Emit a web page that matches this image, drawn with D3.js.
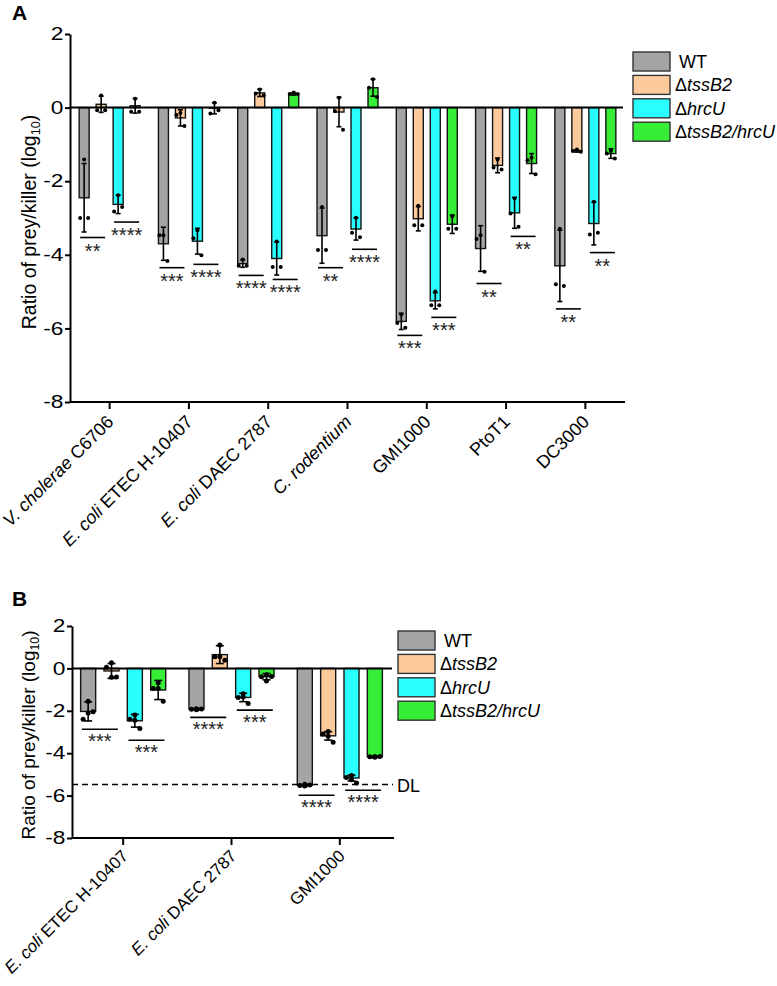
<!DOCTYPE html>
<html><head><meta charset="utf-8">
<script src="https://cdn.jsdelivr.net/npm/d3@7"></script>
<style>body{margin:0;background:#fff} svg{font-family:"Liberation Sans",Arial,sans-serif}</style>
</head><body><svg id="c" width="777" height="986"></svg>
<script>
// ---------- shared ----------
const series = ["WT", "ΔtssB2", "ΔhrcU", "ΔtssB2/hrcU"];
const seriesItalic = ["", "tssB2", "hrcU", "tssB2/hrcU"];
const colors = ["#a4a4a7", "#fdca9b", "#2affff", "#36ee36"];
const yTicks = [-8, -6, -4, -2, 0, 2];

// ---------- panel A data ----------
const aCats = ["V. cholerae C6706", "E. coli ETEC H-10407", "E. coli DAEC 2787", "C. rodentium", "GMI1000", "PtoT1", "DC3000"];
const aCatItalic = ["V. cholerae", "E. coli", "E. coli", "C. rodentium", "", "", ""];
const aWT     = [-2.45, -3.70, -4.24, -3.48, -5.81, -3.83, -4.30];
const aTssB2  = [0.09, -0.28, 0.40, -0.12, -3.02, -1.57, -1.18];
const aHrcU   = [-2.63, -3.63, -4.10, -3.30, -5.25, -2.86, -3.15];
const aDouble = [0.05, -0.02, 0.37, 0.54, -3.17, -1.52, -1.25];
const aWTsd     = [0.93, 0.45, 0.10, 0.75, 0.22, 0.62, 0.97];
const aTssB2sd  = [0.22, 0.22, 0.10, 0.40, 0.33, 0.20, 0.03];
const aHrcUsd   = [0.25, 0.35, 0.45, 0.30, 0.22, 0.42, 0.58];
const aDoublesd = [0.20, 0.15, 0.03, 0.23, 0.25, 0.27, 0.13];
const aWTpts     = [[-1.41,-3.0,-3.0],[-3.47,-3.47,-4.17],[-4.13,-4.30,-4.30],[-2.70,-3.87,-3.87],[-5.62,-5.85,-5.98],[-3.47,-3.57,-4.46],[-3.29,-4.80,-4.85]];
const aTssB2pts  = [[0.33,-0.07,-0.07],[-0.15,-0.20,-0.50],[0.49,0.38,0.33],[0.27,-0.10,-0.60],[-2.67,-3.20,-3.20],[-1.41,-1.63,-1.68],[-1.14,-1.18,-1.20]];
const aHrcUpts   = [[-2.38,-2.82,-2.70],[-3.33,-3.55,-4.01],[-3.64,-4.33,-4.33],[-2.99,-3.40,-3.52],[-5.00,-5.37,-5.37],[-2.47,-2.88,-3.24],[-2.56,-3.45,-3.40]];
const aDoublepts = [[0.24,-0.11,-0.11],[0.13,-0.16,-0.07],[0.41,0.37,0.37],[0.77,0.54,0.29],[-2.95,-3.29,-3.29],[-1.36,-1.43,-1.81],[-1.17,-1.25,-1.38]];
const aSig1Y   = [-3.53, -4.35, -4.56, -4.35, -6.19, -4.78, -5.47];
const aSig1Lab = ["**", "***", "****", "**", "***", "**", "**"];
const aSig2Y   = [-3.11, -4.26, -4.67, -3.85, -5.70, -3.50, -3.94];
const aSig2Lab = ["****", "****", "****", "****", "***", "**", "**"];

// ---------- panel B data ----------
const bCats = ["E. coli ETEC H-10407", "E. coli DAEC 2787", "GMI1000"];
const bCatItalic = ["E. coli", "E. coli", ""];
const bWT     = [-2.03, -1.92, -5.51];
const bTssB2  = [-0.12, 0.65, -3.18];
const bHrcU   = [-2.47, -1.37, -5.17];
const bDouble = [-1.02, -0.39, -4.17];
const bWTsd     = [0.45, 0.03, 0.03];
const bTssB2sd  = [0.35, 0.42, 0.20];
const bHrcUsd   = [0.30, 0.20, 0.14];
const bDoublesd = [0.45, 0.15, 0.03];
const bWTpts     = [[-1.55,-2.40,-2.10,-2.05],[-1.90,-1.93,-1.95,-1.92],[-5.47,-5.52,-5.55,-5.50]];
const bTssB2pts  = [[0.27,0.05,-0.42,-0.40],[1.10,0.55,0.55,0.38],[-2.98,-3.10,-3.20,-3.48]];
const bHrcUpts   = [[-2.20,-2.40,-2.45,-2.83],[-1.20,-1.37,-1.35,-1.65],[-5.05,-5.15,-5.25,-5.40]];
const bDoublepts = [[-0.68,-0.95,-0.95,-1.55],[-0.30,-0.39,-0.60,-0.38],[-4.15,-4.17,-4.19,-4.16]];
const bSig1Y   = [-2.87, -2.31, -5.98];
const bSig1Lab = ["***", "****", "****"];
const bSig2Y   = [-3.39, -1.97, -5.75];
const bSig2Lab = ["***", "***", "****"];
const bDL = -5.48;

const svg = d3.select("#c");

function addLabel(sel, italicPart, rest) {
  if (italicPart) sel.append("tspan").attr("font-style", "italic").text(italicPart);
  if (rest) sel.append("tspan").text(rest);
}

function panel(o) {
  const g = svg.append("g");
  const x = d3.scaleBand().domain(o.cats).range(o.xRange).paddingInner(0).paddingOuter(0);
  const xs = d3.scaleBand().domain(series).range([-o.half, o.half]).paddingInner(o.pi).paddingOuter(o.po);
  const y = d3.scaleLinear().domain([-8, 2]).range(o.yRange);
  const cx = c => x(c) + x.bandwidth() / 2;

  const rows = [];
  series.forEach((s, si) => o.cats.forEach((c, ci) => rows.push({
    s, si, c, v: o.means[si][ci], sd: o.sds[si][ci], pts: o.pts[si][ci]
  })));

  // bars
  g.selectAll("rect.bar").data(rows).join("rect").attr("class", "bar")
    .attr("x", d => cx(d.c) + xs(d.s))
    .attr("width", xs.bandwidth())
    .attr("y", d => y(Math.max(0, d.v)))
    .attr("height", d => Math.abs(y(d.v) - y(0)))
    .attr("fill", d => colors[d.si])
    .attr("stroke", "#141414").attr("stroke-width", 1.4);

  // zero line
  g.append("line").attr("x1", o.axisX).attr("x2", o.xRange[1] - 2)
    .attr("y1", y(0)).attr("y2", y(0)).attr("stroke", "#000").attr("stroke-width", 2);

  // error bars
  const bx = d => cx(d.c) + xs(d.s) + xs.bandwidth() / 2;
  g.selectAll("line.err").data(rows).join("line").attr("class", "err")
    .attr("x1", bx).attr("x2", bx)
    .attr("y1", d => y(d.v + d.sd)).attr("y2", d => y(d.v - d.sd))
    .attr("stroke", "#000").attr("stroke-width", 1.6);
  ["up", "dn"].forEach(k => {
    g.selectAll("line.cap" + k).data(rows).join("line").attr("class", "cap" + k)
      .attr("x1", d => bx(d) - o.cap).attr("x2", d => bx(d) + o.cap)
      .attr("y1", d => y(k === "up" ? d.v + d.sd : d.v - d.sd))
      .attr("y2", d => y(k === "up" ? d.v + d.sd : d.v - d.sd))
      .attr("stroke", "#000").attr("stroke-width", 1.6);
  });

  // points
  const ptRows = [];
  rows.forEach(d => d.pts.forEach((p, pi) => ptRows.push({ d, p, pi })));
  g.selectAll("circle.pt").data(ptRows).join("circle").attr("class", "pt")
    .attr("cx", r => bx(r.d) + o.jitter[r.pi % o.jitter.length])
    .attr("cy", r => y(r.p)).attr("r", o.ptR).attr("fill", "#000");

  // significance
  const sigRows = [];
  o.cats.forEach((c, ci) => {
    sigRows.push({ xc: cx(c) - o.sigOff, y: o.sig1Y[ci], lab: o.sig1Lab[ci] });
    sigRows.push({ xc: cx(c) + o.sigOff, y: o.sig2Y[ci], lab: o.sig2Lab[ci] });
  });
  g.selectAll("line.sig").data(sigRows).join("line").attr("class", "sig")
    .attr("x1", d => d.xc - o.sigW / 2).attr("x2", d => d.xc + o.sigW / 2)
    .attr("y1", d => y(d.y)).attr("y2", d => y(d.y))
    .attr("stroke", "#000").attr("stroke-width", 1.6);
  g.selectAll("text.sig").data(sigRows).join("text").attr("class", "sig")
    .attr("x", d => d.xc).attr("y", d => y(d.y) + o.starDy)
    .attr("text-anchor", "middle").attr("font-size", 20).attr("fill", "#222")
    .text(d => d.lab);

  // y axis
  const ya = g.append("g").attr("transform", `translate(${o.axisX},0)`)
    .call(d3.axisLeft(y).tickValues(yTicks).tickSize(5).tickSizeOuter(0).tickFormat(d3.format("d")));
  ya.selectAll("path,line").attr("stroke", "#000").attr("stroke-width", 2);
  ya.selectAll("text").attr("font-size", 17.5).attr("fill", "#000")
    .attr("font-family", '"Liberation Sans",Arial,sans-serif')
    .attr("transform", "scale(1.3,1)").attr("x", -6.5 / 1.3).text(d => d < 0 ? "-" + Math.abs(d) : d);

  // x axis
  const xa = g.append("g").attr("transform", `translate(0,${y(-8)})`)
    .call(d3.axisBottom(x).tickSize(7).tickSizeOuter(0).tickFormat(""));
  xa.selectAll("path,line").attr("stroke", "#000").attr("stroke-width", 2);
  xa.select("path.domain").attr("d", `M${o.axisX},0H${o.xRange[1]}`);
  o.cats.forEach((c, ci) => {
    const t = g.append("text")
      .attr("transform", `translate(${cx(c) + o.lblDx},${y(-8) + o.lblDy}) rotate(-45)`)
      .attr("text-anchor", "end").attr("font-size", o.lblSize).attr("fill", "#000");
    addLabel(t, o.catItalic[ci], c.slice(o.catItalic[ci].length));
  });

  // y title
  const yt = g.append("text")
    .attr("transform", `translate(${o.titleX},${(o.yRange[0] + o.yRange[1]) / 2 + o.titleDy}) rotate(-90)`)
    .attr("text-anchor", "middle").attr("font-size", o.titleSize).attr("fill", "#000");
  yt.append("tspan").text("Ratio of prey/killer (log");
  yt.append("tspan").attr("font-size", o.titleSize * 0.65).attr("dy", 4).text("10");
  yt.append("tspan").attr("dy", -4).text(")");

  // panel letter
  g.append("text").attr("x", 12).attr("y", o.letterY).attr("font-size", 21)
    .attr("font-weight", "bold").text(o.letter);

  // legend
  const lg = g.append("g");
  series.forEach((s, si) => {
    const yy = o.legY + si * 23.4;
    lg.append("rect").attr("x", o.legX).attr("y", yy).attr("width", 37).attr("height", 19)
      .attr("fill", colors[si]).attr("stroke", "#333").attr("stroke-width", 1.4);
    const t = lg.append("text").attr("x", o.legX + (si === 0 ? 46 : 42)).attr("y", yy + 16)
      .attr("font-size", 18).attr("fill", "#000");
    if (seriesItalic[si]) {
      t.append("tspan").text(s.slice(0, s.length - seriesItalic[si].length));
      t.append("tspan").attr("font-style", "italic").text(seriesItalic[si]);
    } else t.text(s);
  });

  return { g, x, y };
}

panel({
  letter: "A", letterY: 20,
  cats: aCats, catItalic: aCatItalic,
  means: [aWT, aTssB2, aHrcU, aDouble],
  sds: [aWTsd, aTssB2sd, aHrcUsd, aDoublesd],
  pts: [aWTpts, aTssB2pts, aHrcUpts, aDoublepts],
  sig1Y: aSig1Y, sig1Lab: aSig1Lab, sig2Y: aSig2Y, sig2Lab: aSig2Lab,
  xRange: [70, 625], yRange: [402, 34], axisX: 70,
  half: 34, pi: 0.412, po: 0.206, cap: 2.5, ptR: 2, jitter: [0, -4, 4],
  sigOff: 17, sigW: 25, starDy: 20,
  lblDx: 5, lblDy: 21, lblSize: 18, titleX: 36, titleSize: 19.5, titleDy: 4,
  legX: 633, legY: 52
});

const B = panel({
  letter: "B", letterY: 606,
  cats: bCats, catItalic: bCatItalic,
  means: [bWT, bTssB2, bHrcU, bDouble],
  sds: [bWTsd, bTssB2sd, bHrcUsd, bDoublesd],
  pts: [bWTpts, bTssB2pts, bHrcUpts, bDoublepts],
  sig1Y: bSig1Y, sig1Lab: bSig1Lab, sig2Y: bSig2Y, sig2Lab: bSig2Lab,
  xRange: [69, 394], yRange: [838, 626], axisX: 72,
  half: 46.7, pi: 0.356, po: 0.178, cap: 4, ptR: 2.5, jitter: [0, -5, 0, 5],
  sigOff: 23.3, sigW: 36, starDy: 19,
  lblDx: 6, lblDy: 19, lblSize: 17, titleX: 35, titleSize: 19, titleDy: 3,
  legX: 398, legY: 631
});

// detection limit
B.g.append("line").attr("x1", 72).attr("x2", 393)
  .attr("y1", B.y(bDL)).attr("y2", B.y(bDL))
  .attr("stroke", "#000").attr("stroke-width", 1.5).attr("stroke-dasharray", "6,4");
B.g.append("text").attr("x", 397).attr("y", B.y(bDL) + 7).attr("font-size", 18).text("DL");
</script></body></html>
